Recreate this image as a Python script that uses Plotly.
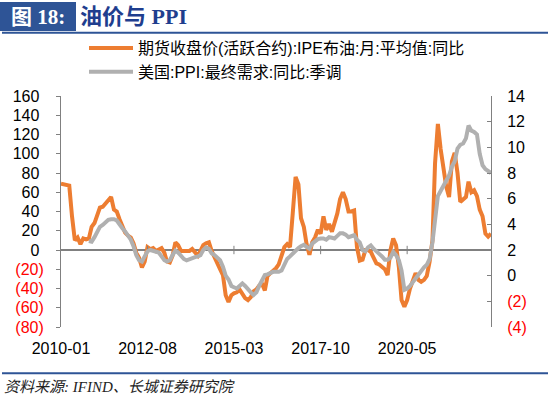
import pandas as pd
import plotly.graph_objects as go

# ---------------- data ----------------
months = [d.strftime("%Y-%m-01") for d in pd.date_range("2010-01-01", "2022-11-01", freq="MS")]

# 期货收盘价(活跃合约):IPE布油:月:平均值:同比  (%; left axis)
brent_yoy = [
    69, 68, 68, 67, 35, 10, 13, 6, 12, 11, 12, 24,            # 2010
    28, 38, 44, 45, 48, 52, 55, 42, 40, 32, 26, 18,           # 2011
    15, 13, 7, -3, -8, -18, -12, 3, 1, 2, -1, 1,              # 2012
    2, -3, -12, -13, -6, 8, 5, -1, -1, -2, -1, 1,             # 2013
    -3, -6, -1, 5, 7, 8, -1, -8, -13, -20, -26, -47,          # 2014
    -54, -47, -45, -44, -41, -46, -50, -52, -49, -43, -41, -37,  # 2015
    -35, -42, -27, -24, -22, -19, -15, -5, 3, 6, 3, 38,       # 2016
    76, 68, 33, 24, 6, -5, 8, 13, 21, 17, 35, 21,             # 2017
    27, 19, 28, 38, 53, 60, 53, 40, 40, 41, 3, -11,           # 2018
    -10, 0, 0, -2, -8, -14, -15, -18, -20, -26, 0, 12,        # 2019
    5, -18, -52, -59, -52, -40, -33, -24, -31, -33, -31, -27,  # 2020
    -12, 10, 90, 131, 105, 81, 66, 55, 92, 101, 80, 50,       # 2021
    52, 55, 71, 60, 62, 56, 42, 35, 17, 14, 17,               # 2022
]

# 美国:PPI:最终需求:同比:季调  (%; right axis)
ppi_yoy = [
    None, None, None, None, None, None, None, None, None, None, 2.7, 2.65,   # 2010
    3.0, 3.5, 3.8, 3.95, 4.2, 4.35, 4.4, 4.4, 4.3, 3.95, 3.7, 3.45,          # 2011
    3.1, 2.8, 2.3, 1.6, 1.2, 1.1, 1.5, 1.9, 2.0, 1.95, 1.9, 1.8,             # 2012
    1.5, 1.2, 1.1, 1.2, 1.6, 1.95, 1.8, 1.5, 1.3, 1.2, 1.3, 1.35,            # 2013
    1.45, 1.5, 1.6, 2.0, 2.2, 2.1, 1.75, 1.6, 1.4, 1.2, 0.7, 0.0,            # 2014
    -0.3, -0.8, -0.9, -1.0, -0.8, -0.6, -0.8, -1.0, -1.3, -1.5, -1.3, -0.8,  # 2015
    -0.3, 0.05, 0.1, 0.2, 0.3, 0.3, 0.3, 0.4, 0.9, 1.3, 1.5, 1.75,           # 2016
    1.95, 2.15, 2.3, 2.4, 2.25, 2.1, 2.5, 2.7, 2.85, 2.9, 2.9, 2.8,          # 2017
    3.0, 2.95, 2.9, 3.1, 3.3, 3.3, 3.2, 3.0, 3.05, 3.15, 2.8, 2.6,           # 2018
    2.0, 1.9, 2.2, 2.35, 2.1, 1.85, 1.7, 1.5, 1.25, 1.25, 1.4, 1.85,         # 2019
    1.6, 1.2, 0.4, -1.1, -1.0, -0.8, -0.5, -0.2, 0.05, 0.4, 0.65, 0.85,      # 2020
    1.3, 2.6, 4.5, 6.2, 6.6, 7.0, 7.4, 7.8, 8.5, 8.9, 9.9, 10.2,             # 2021
    10.3, 10.7, 11.7, 11.3, 11.2, 11.0, 9.5, 8.6, 8.3, 8.1, 8.0,             # 2022
]

x_tick_dates = ["2010-01-01", "2012-08-01", "2015-03-01", "2017-10-01", "2020-05-01"]
x_tick_labels = ["2010-01", "2012-08", "2015-03", "2017-10", "2020-05"]
left_ticks = [-80, -60, -40, -20, 0, 20, 40, 60, 80, 100, 120, 140, 160]
right_ticks = [-4, -2, 0, 2, 4, 6, 8, 10, 12, 14]

series_names = ["期货收盘价(活跃合约):IPE布油:月:平均值:同比", "美国:PPI:最终需求:同比:季调"]
title_tag = "图 18:"
title_text = "油价与 PPI"
source_text = "资料来源: IFIND、长城证券研究院"

# ---------------- styling ----------------
W, H = 550, 399
ML, MR, MT, MB = 61, 59, 96, 72
PW, PH = W - ML - MR, H - MT - MB
ORANGE = "#ED7D31"
GREY = "#B0B0B0"
AXIS = "#808080"
BLUE = "#2E5496"
SANS = "Liberation Sans, Arial, Noto Sans CJK SC, sans-serif"
SERIF = "Liberation Serif, Times New Roman, Noto Sans CJK SC, serif"


def xp(px):
    return (px - ML) / PW


def yp(py):
    return (H - MB - py) / PH


def fmt(v, trail):
    if v < 0:
        return "<span style='color:#FF0000'>(%d)</span>" % abs(v)
    return "%d%s" % (v, trail)


fig = go.Figure()
fig.add_trace(go.Scatter(x=months, y=brent_yoy, name=series_names[0], mode="lines",
                         line=dict(color=ORANGE, width=4), yaxis="y"))
fig.add_trace(go.Scatter(x=months, y=ppi_yoy, name=series_names[1], mode="lines",
                         line=dict(color=GREY, width=4), yaxis="y2"))
# small category tick marks on the zero line
fig.add_trace(go.Scatter(x=x_tick_dates[1:], y=[0] * (len(x_tick_dates) - 1), mode="markers",
                         marker=dict(symbol="line-ns", size=6, line=dict(color=AXIS, width=1)),
                         showlegend=False, hoverinfo="skip", yaxis="y"))

fig.update_layout(
    width=W, height=H,
    margin=dict(l=ML, r=MR, t=MT, b=MB),
    paper_bgcolor="white", plot_bgcolor="white",
    font=dict(family=SANS, size=16, color="#000000"),
    showlegend=True,
    legend=dict(x=xp(84), y=yp(31), xanchor="left", yanchor="top",
                font=dict(family=SANS, size=16, color="#000000"),
                bgcolor="rgba(0,0,0,0)", itemwidth=44, tracegroupgap=0),
    xaxis=dict(type="date", range=[months[0], months[-1]],
               tickvals=x_tick_dates, ticktext=x_tick_labels,
               showline=False, ticks="", showgrid=False, zeroline=False,
               ticklabelstandoff=10, tickfont=dict(size=16)),
    yaxis=dict(range=[-80, 160], tickvals=left_ticks,
               ticktext=[fmt(v, "\u00a0") for v in left_ticks],
               showline=True, linecolor=AXIS, linewidth=1,
               ticks="outside", ticklen=4, tickcolor=AXIS,
               showgrid=False, zeroline=True, zerolinecolor=AXIS, zerolinewidth=1.5,
               ticklabelstandoff=9, tickfont=dict(size=16)),
    yaxis2=dict(range=[-4, 14], tickvals=right_ticks,
                ticktext=[fmt(v, "") for v in right_ticks],
                overlaying="y", side="right",
                showline=True, linecolor=AXIS, linewidth=1,
                ticks="inside", ticklen=4, tickcolor=AXIS,
                showgrid=False, zeroline=False,
                ticklabelstandoff=12, tickfont=dict(size=16)),
)

# header box and rule
fig.add_shape(type="rect", xref="paper", yref="paper",
              x0=xp(0), x1=xp(76), y0=yp(31), y1=yp(2),
              fillcolor=BLUE, line=dict(width=0), layer="above")
fig.add_shape(type="line", xref="paper", yref="paper",
              x0=xp(2), x1=xp(548), y0=yp(32.8), y1=yp(32.8),
              line=dict(color=BLUE, width=2))
fig.add_shape(type="line", xref="paper", yref="paper",
              x0=xp(2), x1=xp(548), y0=yp(373.3), y1=yp(373.3),
              line=dict(color=BLUE, width=2))

fig.add_annotation(xref="paper", yref="paper", x=xp(38), y=yp(17),
                   xanchor="center", yanchor="middle", showarrow=False,
                   text="<b>%s</b>" % title_tag,
                   font=dict(family=SERIF, size=21, color="#FFFFFF"))
fig.add_annotation(xref="paper", yref="paper", x=xp(78), y=yp(17),
                   xanchor="left", yanchor="middle", showarrow=False,
                   text="<b>%s</b>" % title_text,
                   font=dict(family=SERIF, size=22, color="#1F3E8E"))
fig.add_annotation(xref="paper", yref="paper", x=xp(2), y=yp(387),
                   xanchor="left", yanchor="middle", showarrow=False,
                   text="<i>%s</i>" % source_text,
                   font=dict(family=SERIF, size=15, color="#222222"))

fig.write_html("out.html",
               config={"displayModeBar": False},
               post_script="document.body.style.margin='0';document.body.style.padding='0';")
